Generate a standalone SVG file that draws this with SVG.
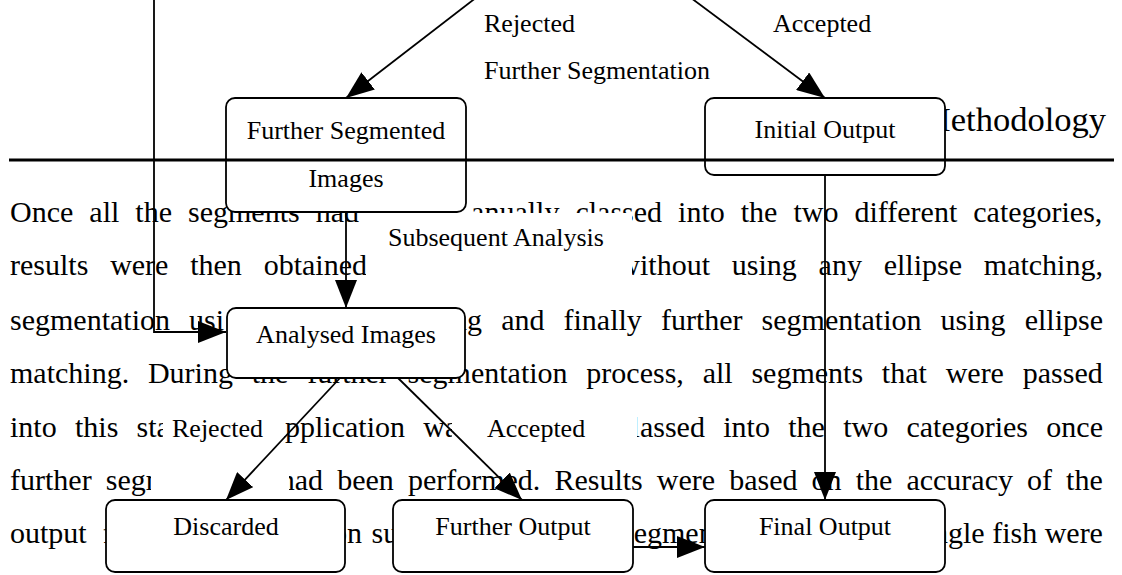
<svg xmlns="http://www.w3.org/2000/svg" width="1122" height="575" viewBox="0 0 1122 575">
<style>
.pg{font-family:"Liberation Serif","Times New Roman",serif;font-size:30px;fill:#000}
.hd{font-family:"Liberation Serif","Times New Roman",serif;font-size:34.5px;fill:#000;text-anchor:end}
.nd rect{fill:#fff;stroke:#000;stroke-width:1.8}
.nl{font-family:"Liberation Serif","Times New Roman",serif;font-size:26px;fill:#000;text-anchor:middle}
.el{font-family:"Liberation Serif","Times New Roman",serif;font-size:26px;fill:#000}
.bg{fill:#fff;stroke:none}
.cn{fill:none;stroke:#000;stroke-width:1.8;marker-end:url(#ah)}
</style>
<defs>
<marker id="ah" markerUnits="userSpaceOnUse" markerWidth="30" markerHeight="22" refX="28" refY="11" orient="auto" viewBox="0 0 30 22"><path d="M0,0 L28,11 L0,22 z" fill="#000"/></marker>
</defs>
<rect width="1122" height="575" fill="#fff"/>
<g id="page-text">
<text class="hd" x="1106" y="131">Methodology</text>
<text class="pg" x="10" y="222" word-spacing="8.53">Once all the segments had</text>
<text class="pg" x="471.1" y="222" word-spacing="8.53">anually classed into the two different categories,</text>
<text class="pg" x="10" y="275" word-spacing="14.3">results were then obtained</text>
<text class="pg" x="618.3" y="275" word-spacing="14.3">without using any ellipse matching,</text>
<text class="pg" x="10" y="330" word-spacing="11.56">segmentation usi</text>
<text class="pg" x="452.1" y="330" word-spacing="11.56">ng and finally further segmentation using ellipse</text>
<text class="pg" x="10" y="383" word-spacing="11.3">matching. During the further segmentation process, all segments that were passed</text>
<text class="pg" x="10" y="437" word-spacing="10.8">into this sta</text>
<text class="pg" x="271.7" y="437" word-spacing="10.8">application wa</text>
<text class="pg" x="631.6" y="437" word-spacing="10.8">lassed into the two categories once</text>
<text class="pg" x="10" y="490" word-spacing="6.58">further segm</text>
<text class="pg" x="279.8" y="490" word-spacing="6.58">had been performed. Results were based on the accuracy of the</text>
<text class="pg" x="10" y="543" word-spacing="8.5">output f</text>
<text class="pg" x="332" y="543" word-spacing="2">on su</text>
<text class="pg" x="622" y="543">segmen</text>
<text class="pg" x="933" y="543">ngle fish were</text>
</g>
<g id="label-backgrounds">
<rect class="bg" x="366" y="213" width="266" height="68"/>
<rect class="bg" x="163" y="412" width="121" height="50"/>
<rect class="bg" x="151" y="462" width="138" height="38"/>
<rect class="bg" x="452" y="412" width="185" height="54"/>
</g>
<g id="n-further-segmented" class="nd">
<rect x="226" y="98" width="240" height="114" rx="9"/>
<text class="nl" x="346" y="139">Further Segmented</text>
<text class="nl" x="346" y="187">Images</text>
</g>
<g id="n-initial-output" class="nd">
<rect x="705" y="98" width="240" height="77" rx="9"/>
<text class="nl" x="825" y="138">Initial Output</text>
</g>
<g id="n-analysed" class="nd">
<rect x="227" y="308" width="238" height="70" rx="9"/>
<text class="nl" x="346" y="343">Analysed Images</text>
</g>
<g id="n-discarded" class="nd">
<rect x="106" y="500" width="239" height="72" rx="9"/>
<text class="nl" x="226" y="535">Discarded</text>
</g>
<g id="n-further-output" class="nd">
<rect x="393" y="500" width="240" height="72" rx="9"/>
<text class="nl" x="513" y="535">Further Output</text>
</g>
<g id="n-final-output" class="nd">
<rect x="705" y="500" width="240" height="72" rx="9"/>
<text class="nl" x="825" y="535">Final Output</text>
</g>
<line x1="9" y1="160" x2="1114" y2="160" stroke="#000" stroke-width="3"/>
<g id="edge-labels">
<text class="el" x="484" y="32">Rejected</text>
<text class="el" x="484" y="79">Further Segmentation</text>
<text class="el" x="773" y="32">Accepted</text>
<text class="el" x="388" y="246">Subsequent Analysis</text>
<text class="el" x="172" y="437">Rejected</text>
<text class="el" x="487" y="437">Accepted</text>
</g>
<g id="connectors">
<path class="cn" d="M499,-20 L346,98"/>
<path class="cn" d="M667,-20 L825,98"/>
<path class="cn" d="M154,-5 L154,332 L226,332"/>
<path class="cn" d="M346,212 L346,308"/>
<path class="cn" d="M825,175 L825,500"/>
<path class="cn" d="M340,378 L226,500"/>
<path class="cn" d="M398,378 L522,500"/>
<path class="cn" d="M633,547 L705,547"/>
</g>
</svg>
